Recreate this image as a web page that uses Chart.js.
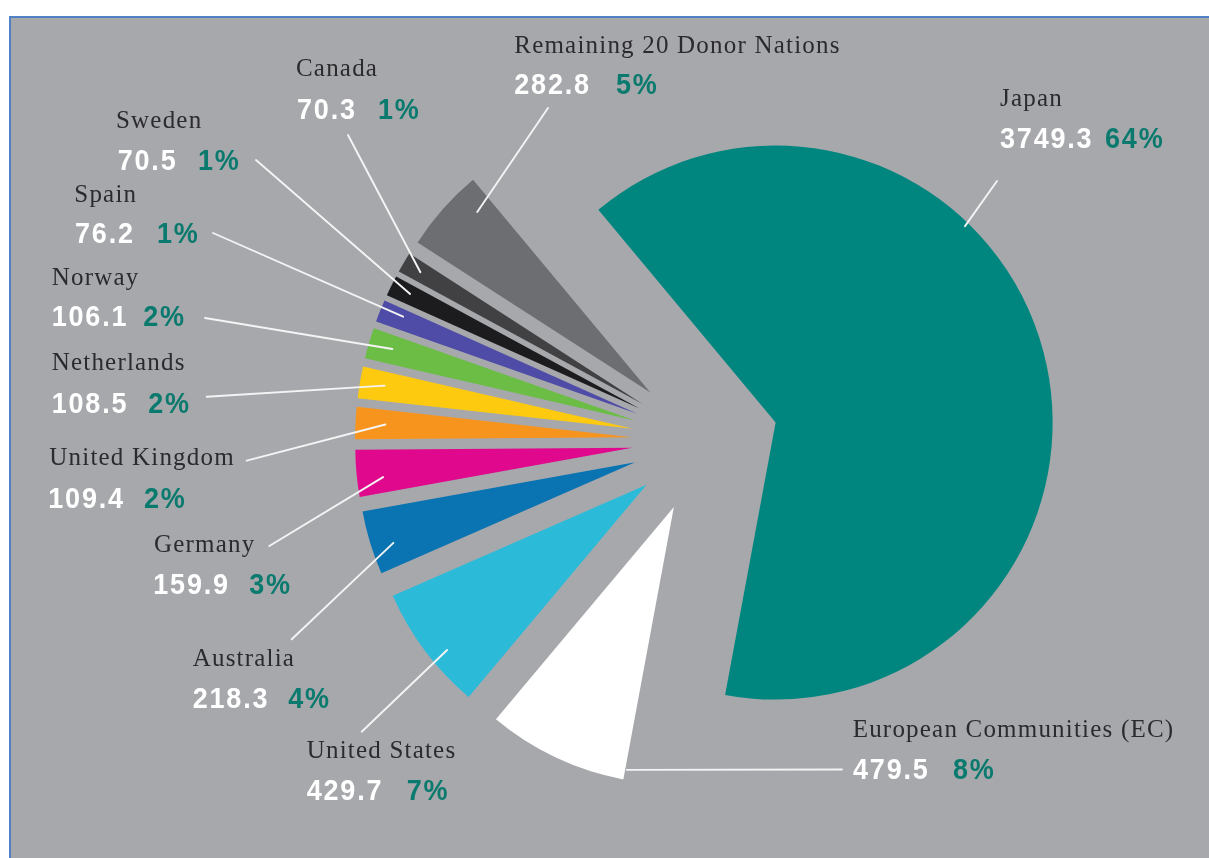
<!DOCTYPE html>
<html>
<head>
<meta charset="utf-8">
<script src="https://cdn.jsdelivr.net/npm/chart.js@4.4.1/dist/chart.umd.min.js"></script>
<style>
  html, body { margin: 0; padding: 0; background: #ffffff; width: 1209px; height: 858px; overflow: hidden; }
  #frame { position: absolute; left: 9px; top: 16px; right: 0; bottom: 0; background: #a7a8ac;
           border-top: 2px solid #5081c6; border-left: 2px solid #5081c6; }
  #chart { position: absolute; left: 0; top: 0; }
</style>
</head>
<body>
<div id="frame"></div>
<canvas id="chart" width="1209" height="858"></canvas>
<script>
// Donor contributions (clockwise from the large slice)
const donors = [
  'Japan', 'European Communities (EC)', 'United States', 'Australia', 'Germany',
  'United Kingdom', 'Netherlands', 'Norway', 'Spain', 'Sweden', 'Canada',
  'Remaining 20 Donor Nations'
];
const amounts = [3749.3, 479.5, 429.7, 218.3, 159.9, 109.4, 108.5, 106.1, 76.2, 70.5, 70.3, 282.8];
const sliceColors = [
  '#00867e', '#ffffff', '#2bbbd9', '#0a73b1', '#e0088c', '#f7941e',
  '#fdca10', '#6bbd45', '#4e4ca6', '#1c1b1d', '#414143', '#6d6e71'
];

// Label placement: name baseline, value baseline, percent x, leader start,
// leader end as (angle shift from slice middle, fraction of radius)
const labelLayout = [
  { nx: 1000,  ny: 106,   vx: 1000,  vy: 148,   px: 1105,  from: [997, 181],   shift: -31.4, rf: 0.985 },
  { nx: 852.7, ny: 736.7, vx: 853,   vy: 779.3, px: 953,   from: [842, 769.5], shift: -15.1, rf: 0.964 },
  { nx: 306.7, ny: 758.3, vx: 306.7, vy: 800,   px: 406.7, from: [361.7, 731.7], shift: -2.8, rf: 0.935 },
  { nx: 192.7, ny: 666,   vx: 192.7, vy: 707.7, px: 288.3, from: [291.7, 639.3], shift: -1.5, rf: 0.92 },
  { nx: 154,   ny: 551.7, vx: 153.3, vy: 594,   px: 249.3, from: [269.3, 546],   shift: -1.4, rf: 0.906 },
  { nx: 49.3,  ny: 465,   vx: 48.3,  vy: 507.7, px: 144,   from: [246.7, 460.7], shift: 0,    rf: 0.892 },
  { nx: 51.7,  ny: 370,   vx: 51.7,  vy: 413.3, px: 148.3, from: [206.7, 396.7], shift: 0.2,  rf: 0.91 },
  { nx: 51.7,  ny: 285,   vx: 51.7,  vy: 326,   px: 143.3, from: [205, 318],     shift: 0.2,  rf: 0.913 },
  { nx: 74.3,  ny: 201.7, vx: 75,    vy: 243.3, px: 157,   from: [213, 233],     shift: 0.7,  rf: 0.915 },
  { nx: 116,   ny: 128.3, vx: 117.7, vy: 170,   px: 198,   from: [256, 160],     shift: 0.2,  rf: 0.926 },
  { nx: 296,   ny: 76,    vx: 297,   vy: 119.3, px: 378,   from: [348, 135],     shift: 0,    rf: 0.931 },
  { nx: 514.3, ny: 53.3,  vx: 514.3, vy: 94,    px: 616,   from: [548, 108],     shift: 4.7,  rf: 0.903 }
];

const EXPLODE = 73;       // every slice pushed out from the centre along its middle angle
const total = amounts.reduce((a, b) => a + b, 0);

// Moves each arc outward; recomputed from the chart area so it is idempotent
const explodePlugin = {
  id: 'explode',
  beforeDatasetsDraw(chart) {
    const area = chart.chartArea;
    const cx = (area.left + area.right) / 2;
    const cy = (area.top + area.bottom) / 2;
    chart.getDatasetMeta(0).data.forEach(arc => {
      const mid = (arc.startAngle + arc.endAngle) / 2;
      arc.x = cx + EXPLODE * Math.cos(mid);
      arc.y = cy + EXPLODE * Math.sin(mid);
    });
  }
};

// Bold figures in a horizontally condensed, tracked style
function drawCondensed(ctx, text, x, y, color) {
  const squeeze = 0.9;
  ctx.save();
  ctx.translate(x, y);
  ctx.scale(squeeze, 1);
  ctx.font = 'bold 30px "Liberation Sans", Arial, sans-serif';
  ctx.letterSpacing = (1.8 / squeeze).toFixed(2) + 'px';
  ctx.fillStyle = color;
  ctx.fillText(text, 0, 0);
  ctx.restore();
}

// Leader lines and the three-part labels
const labelPlugin = {
  id: 'donorLabels',
  afterDatasetsDraw(chart) {
    const ctx = chart.ctx;
    const arcs = chart.getDatasetMeta(0).data;
    ctx.save();
    ctx.strokeStyle = '#f4f4f4';
    ctx.lineWidth = 1.9;
    ctx.lineCap = 'round';
    arcs.forEach((arc, i) => {
      const L = labelLayout[i];
      const a = (arc.startAngle + arc.endAngle) / 2 + L.shift * Math.PI / 180;
      const r = arc.outerRadius * L.rf;
      ctx.beginPath();
      ctx.moveTo(L.from[0], L.from[1]);
      ctx.lineTo(arc.x + r * Math.cos(a), arc.y + r * Math.sin(a));
      ctx.stroke();
    });
    ctx.textBaseline = 'alphabetic';
    ctx.textAlign = 'left';
    donors.forEach((name, i) => {
      const L = labelLayout[i];
      ctx.font = '25px "Liberation Serif", "DejaVu Serif", serif';
      ctx.letterSpacing = '1.2px';
      ctx.fillStyle = '#2b2a2c';
      ctx.fillText(name, L.nx, L.ny);
      ctx.letterSpacing = '0px';
      drawCondensed(ctx, amounts[i].toFixed(1), L.vx, L.vy, '#ffffff');
      drawCondensed(ctx, Math.round(amounts[i] / total * 100) + '%', L.px, L.vy, '#0b7a6e');
    });
    ctx.restore();
  }
};

new Chart(document.getElementById('chart'), {
  type: 'pie',
  data: {
    labels: donors,
    datasets: [{
      data: amounts,
      backgroundColor: sliceColors,
      borderWidth: 0
    }]
  },
  options: {
    responsive: false,
    animation: false,
    rotation: -39.8,
    radius: 277,
    layout: { padding: { left: 201, right: 0, top: 24, bottom: 0 } },
    plugins: {
      legend: { display: false },
      tooltip: { enabled: false }
    }
  },
  plugins: [explodePlugin, labelPlugin]
});
</script>
</body>
</html>
